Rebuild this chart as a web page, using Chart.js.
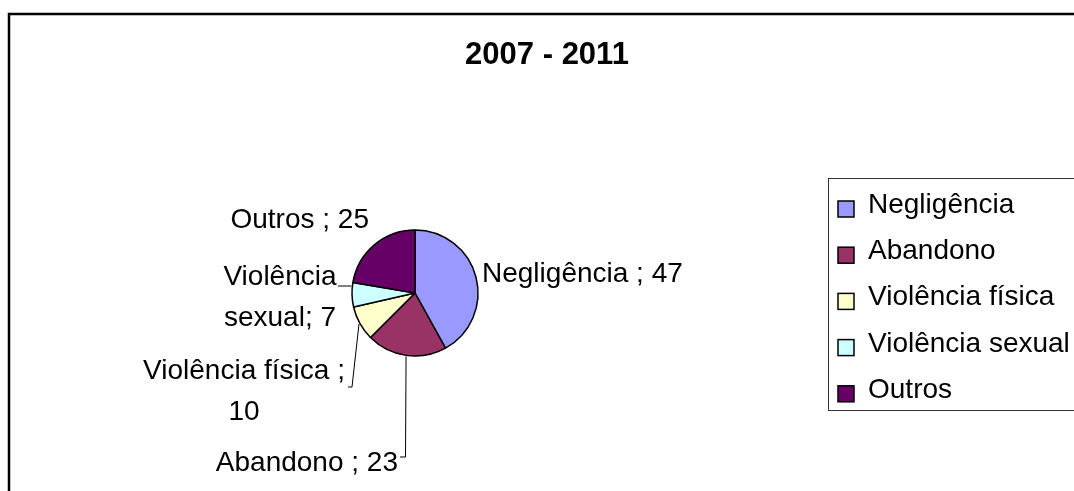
<!DOCTYPE html>
<html>
<head>
<meta charset="utf-8">
<script src="https://cdn.jsdelivr.net/npm/chart.js@4.4.1/dist/chart.umd.min.js"></script>
<style>
  html, body { margin: 0; padding: 0; background: #fff; }
  canvas { display: block; }
</style>
</head>
<body>
<canvas id="grafico" width="1074" height="491"></canvas>
<script>
  // dados do gráfico
  var titulo = "2007 - 2011";
  var categorias = ["Negligência ", "Abandono ", "Violência física ", "Violência sexual", "Outros "];
  var valores = [47, 23, 10, 7, 25];
  var cores = ["#9999FF", "#993366", "#FFFFCC", "#CCFFFF", "#660066"];

  var fonte = '"Liberation Sans", Arial, sans-serif';

  // posição dos rótulos relativa ao centro da pizza (dx, dy = linha de base)
  // saida = fração da fatia de onde sai a linha guia
  var posRotulos = [
    { dx: 67, dy: -11, align: "left", quebra: 0 },
    { dx: -17, dy: 178, align: "right", quebra: 0, saida: 0.5, guia: [[-9.5, 164], [-15, 164]] },
    { dx: -171, dy: 86, align: "center", quebra: 3, saida: 0.5, guia: [[-63, 94], [-67, 94]] },
    { dx: -135, dy: -8, align: "center", quebra: 1, saida: 0.85, guia: [[-77, -7]] },
    { dx: -46, dy: -65, align: "right", quebra: 0 }
  ];
  var entrelinha = 41;

  // moldura externa e título
  var moldura = {
    id: 'moldura',
    beforeDraw: function(chart) {
      var c = chart.ctx;
      c.save();
      c.strokeStyle = '#000';
      c.lineWidth = 2.5;
      c.strokeRect(9, 14, 1100, 600);
      c.fillStyle = '#000';
      c.font = 'bold 31px ' + fonte;
      c.textAlign = 'center';
      c.textBaseline = 'alphabetic';
      c.fillText(titulo, 547, 64);
      c.restore();
    }
  };

  // rótulos de dados com linhas guia
  var rotulos = {
    id: 'rotulos',
    afterDatasetsDraw: function(chart) {
      var c = chart.ctx;
      var arcs = chart.getDatasetMeta(0).data;
      c.save();
      c.font = '28px ' + fonte;
      c.fillStyle = '#000';
      c.textBaseline = 'alphabetic';
      arcs.forEach(function(arc, i) {
        var p = arc.getProps(['x', 'y', 'startAngle', 'endAngle', 'outerRadius'], true);
        var pos = posRotulos[i];

        if (pos.guia) {
          var ang = p.startAngle + (p.endAngle - p.startAngle) * pos.saida;
          var ex = p.x + Math.cos(ang) * (p.outerRadius + 1);
          var ey = p.y + Math.sin(ang) * (p.outerRadius + 1);
          c.beginPath();
          c.strokeStyle = '#000';
          c.lineWidth = 1;
          c.moveTo(ex, ey);
          pos.guia.forEach(function(pt) { c.lineTo(p.x + pt[0], p.y + pt[1]); });
          c.stroke();
        }

        var texto = categorias[i] + "; " + valores[i];
        var palavras = texto.split(" ");
        var linhas = pos.quebra ? [palavras.slice(0, pos.quebra).join(" "), palavras.slice(pos.quebra).join(" ")] : [texto];
        c.textAlign = pos.align;
        linhas.forEach(function(l, k) {
          c.fillText(l, p.x + pos.dx, p.y + pos.dy + k * entrelinha);
        });
      });
      c.restore();
    }
  };

  // legenda com caixa
  var legenda = {
    id: 'legenda',
    afterDraw: function(chart) {
      var c = chart.ctx;
      c.save();
      c.strokeStyle = '#333';
      c.lineWidth = 1;
      c.strokeRect(828.5, 178.5, 300, 232);
      c.font = '28px ' + fonte;
      c.textAlign = 'left';
      c.textBaseline = 'alphabetic';
      categorias.forEach(function(cat, i) {
        var base = 213 + i * 46.2;
        c.fillStyle = cores[i];
        c.fillRect(838, base - 12, 16, 16);
        c.strokeStyle = '#000';
        c.lineWidth = 1.5;
        c.strokeRect(838, base - 12, 16, 16);
        c.fillStyle = '#000';
        c.fillText(cat.trim(), 868, base);
      });
      c.restore();
    }
  };

  var ctx = document.getElementById('grafico').getContext('2d');
  var grafico = new Chart(ctx, {
    type: 'pie',
    data: {
      labels: categorias.map(function(s) { return s.trim(); }),
      datasets: [{
        data: valores,
        backgroundColor: cores,
        borderColor: '#000',
        borderWidth: 1.5,
        radius: 63
      }]
    },
    options: {
      responsive: false,
      animation: false,
      layout: { padding: { left: 300, right: 544, top: 200, bottom: 105 } },
      plugins: {
        legend: { display: false },
        tooltip: { enabled: false },
        title: { display: false }
      }
    },
    plugins: [moldura, rotulos, legenda]
  });
</script>
</body>
</html>
